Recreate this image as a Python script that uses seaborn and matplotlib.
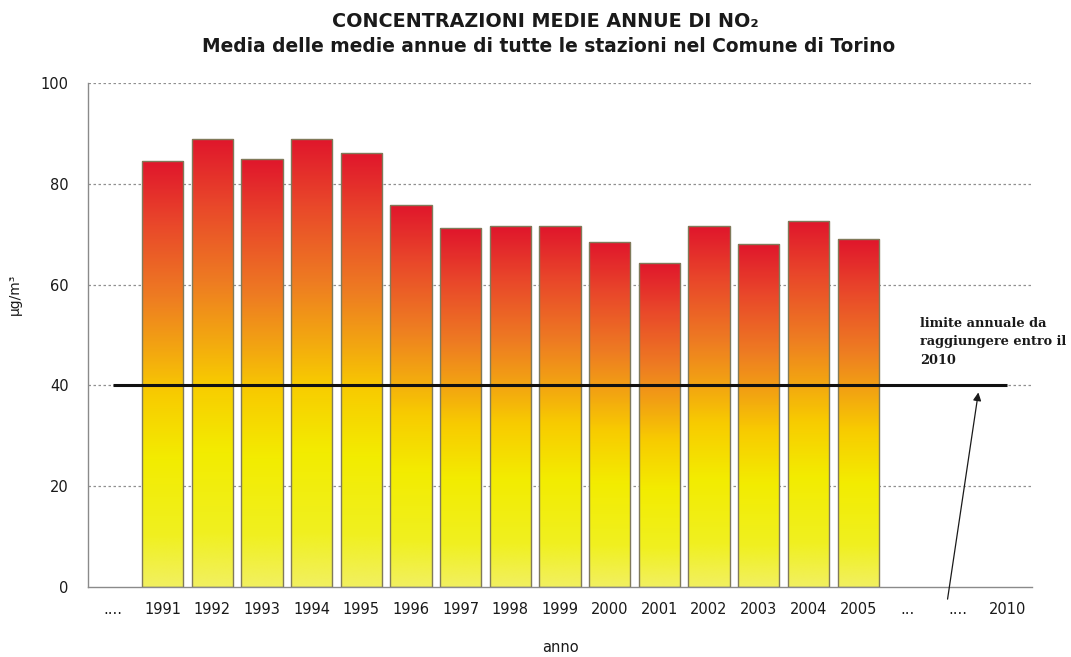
import numpy as np
import pandas as pd
import matplotlib
matplotlib.use("Agg")
import matplotlib.pyplot as plt
from matplotlib.colors import LinearSegmentedColormap
import seaborn as sns

# Annual mean NO2 concentration (µg/m³), average over all Turin stations
years = ["1991", "1992", "1993", "1994", "1995", "1996", "1997", "1998",
         "1999", "2000", "2001", "2002", "2003", "2004", "2005"]
no2_mean = [84.6, 88.9, 85.0, 88.9, 86.2, 75.8, 71.2, 71.6, 71.6, 68.5,
            64.3, 71.6, 68.1, 72.7, 69.0]

# Full axis: placeholder slots before and after the measured years
axis_keys = ["pre"] + years + ["gap1", "gap2", "2010"]
axis_labels = ["...."] + years + ["...", "....", "2010"]

limit_value = 40
limit_text = "limite annuale da\nraggiungere entro il\n2010"

title_1 = "CONCENTRAZIONI MEDIE ANNUE DI NO\u2082"
title_2 = "Media delle medie annue di tutte le stazioni nel Comune di Torino"

sns.set_theme(style="white")
plt.rcParams["font.family"] = ["DejaVu Sans"]

df = pd.DataFrame({"anno": years, "no2": no2_mean})

fig = plt.figure(figsize=(10.71, 6.57), dpi=100)
ax = fig.add_axes([0.0822, 0.1065, 0.8814, 0.7672])

sns.barplot(data=df, x="anno", y="no2", order=axis_keys, width=0.83,
            color="#f0a010", ax=ax, zorder=2)

ax.set_ylim(0, 100)
ax.set_xlim(-0.5, len(axis_keys) - 0.5)

# Vertical yellow -> orange -> red gradient inside every bar
grad = LinearSegmentedColormap.from_list(
    "no2grad",
    [(0.00, "#f2f060"), (0.12, "#f0f020"), (0.30, "#f3ec00"),
     (0.45, "#f8cc00"), (0.55, "#f3a810"), (0.68, "#ee7c22"),
     (0.85, "#e9482a"), (1.00, "#e0162c")])
ramp = np.linspace(0, 1, 256).reshape(-1, 1)
for patch in ax.patches:
    h = patch.get_height()
    if not np.isfinite(h) or h <= 0:
        continue
    x0 = patch.get_x()
    w = patch.get_width()
    img = ax.imshow(ramp, cmap=grad, origin="lower", aspect="auto",
                    extent=(x0, x0 + w, 0, h), zorder=2, interpolation="bicubic")
    img.set_clip_path(patch)
    patch.set_facecolor("none")
    patch.set_edgecolor("#807a5a")
    patch.set_linewidth(1.0)
    patch.set_zorder(3)

ax.set_xlim(-0.5, len(axis_keys) - 0.5)
ax.set_ylim(0, 100)

# Dotted horizontal grid
ax.set_yticks([0, 20, 40, 60, 80, 100])
for yv in [20, 40, 60, 80, 100]:
    ax.axhline(yv, color="#909090", lw=0.9, ls=(0, (2, 2)), zorder=1)

# Annual limit line
ax.plot([0, len(axis_keys) - 1], [limit_value, limit_value],
        color="#111111", lw=2.2, zorder=4, solid_capstyle="butt")

# Spines and ticks
sns.despine(ax=ax, top=True, right=True)
for side in ["left", "bottom"]:
    ax.spines[side].set_color("#8a8a8a")
    ax.spines[side].set_linewidth(1.0)

ax.set_xticks(range(len(axis_keys)))
ax.set_xticklabels(axis_labels, fontsize=10.5, color="#1a1a1a")
ax.set_xticks(np.arange(-0.5, len(axis_keys)), minor=True)
ax.tick_params(axis="x", which="major", length=0, pad=11)
ax.tick_params(axis="x", which="minor", length=4, width=0.8, color="#8a8a8a",
               direction="out")
ax.tick_params(axis="y", which="major", length=5, width=0.8, color="#8a8a8a",
               direction="out", labelsize=10.5, labelcolor="#1a1a1a", pad=9)

ax.set_xlabel("anno", fontsize=10.5, color="#1a1a1a")
ax.xaxis.set_label_coords(0.5, -0.105)
ax.set_ylabel("\u00b5g/m\u00b3", fontsize=10, color="#1a1a1a")
ax.yaxis.set_label_coords(-0.07, 0.58)

# Titles
fig.text(0.509, 0.968, title_1, ha="center", va="center",
         fontsize=13.8, fontweight="bold", color="#1a1a1a")
fig.text(0.512, 0.929, title_2, ha="center", va="center",
         fontsize=13.4, fontweight="bold", color="#1a1a1a")

# Note and arrow pointing at the limit
ax.text(16.24, 53.6, limit_text, ha="left", va="top", fontsize=9.3,
        fontweight="bold", family=["DejaVu Serif"],
        color="#1a1a1a", linespacing=1.55)
ax.annotate("", xy=(17.42, 38.6), xytext=(16.8, -2.4),
            xycoords="data", textcoords="data", annotation_clip=False,
            arrowprops=dict(arrowstyle="-|>", color="#1a1a1a", lw=0.9,
                            mutation_scale=12, shrinkA=0, shrinkB=0))

fig.savefig("out.png", dpi=100, facecolor="white")
